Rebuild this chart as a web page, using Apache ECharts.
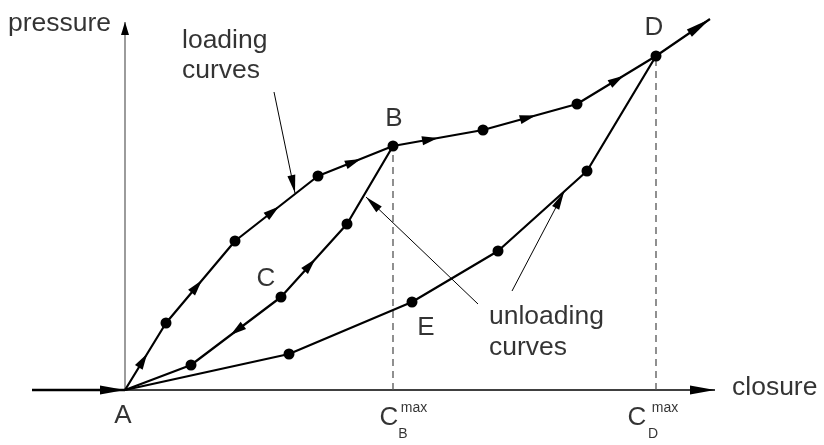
<!DOCTYPE html>
<html>
<head>
<meta charset="utf-8">
<script src="https://cdn.jsdelivr.net/npm/echarts@6/dist/echarts.min.js"></script>
<style>
html,body{margin:0;padding:0;background:#fff;}
#chart{width:824px;height:445px;}
</style>
</head>
<body>
<div id="chart"></div>
<script>
// ---- data (closure, pressure) in arbitrary units ----
var A  = [0.00, 0.00];
var L1 = [0.41, 0.67];
var L2 = [1.10, 1.49];
var L3 = [1.93, 2.14];
var B  = [2.68, 2.44];
var M1 = [3.58, 2.60];
var M2 = [4.52, 2.86];
var D  = [5.31, 3.34];
var EXT = [5.85, 3.71];

var U1 = [2.22, 1.66];
var C  = [1.56, 0.93];
var U3 = [0.66, 0.25];

var V1 = [4.62, 2.19];
var V2 = [3.73, 1.39];
var E  = [2.87, 0.88];
var V4 = [1.64, 0.36];

var loadingCurve  = [A, L1, L2, L3, B, M1, M2, D, EXT];
var unloadingB    = [B, U1, C, U3, A];
var unloadingD    = [D, V1, V2, E, V4, A];
var dots          = [L1, L2, L3, B, M1, M2, D, U1, C, U3, V1, V2, E, V4];

var yAxisTop   = [0.00, 3.68];
var xAxisEnd   = [5.90, 0.00];
var inflowStart = [-0.93, 0.00];

var dashB = [[B[0], 0], B];
var dashD = [[D[0], 0], D];

// annotation arrows: [start, tip]
var noteLoading   = [[1.49, 2.98], [1.70, 1.97]];
var noteUnloadB   = [[3.53, 0.86], [2.41, 1.93]];
var noteUnloadD   = [[3.87, 0.99], [4.39, 1.98]];

// arrowheads on curves: [from, to, tip fraction]
var curveArrows = [
  [A, L1, 0.54], [L1, L2, 0.52], [L2, L3, 0.53], [L3, B, 0.57],
  [B, M1, 0.50], [M1, M2, 0.56], [M2, D, 0.59],
  [C, U1, 0.52], [C, U3, 0.56]
];

// text labels
var pointLabels = [
  {t:'A', p:[-0.02, -0.26]}, {t:'B', p:[2.69, 2.71]}, {t:'C', p:[1.41, 1.11]},
  {t:'D', p:[5.29, 3.62]},  {t:'E', p:[3.01, 0.62]},
  {t:'C', p:[2.64, -0.28]}, {t:'C', p:[5.12, -0.28]}
];
var smallLabels = [
  {t:'max', p:[2.89, -0.18]}, {t:'B', p:[2.78, -0.44]},
  {t:'max', p:[5.40, -0.18]}, {t:'D', p:[5.28, -0.44]}
];
var leftLabels = [
  {t:'pressure', p:[-1.17, 3.66]},
  {t:'loading', p:[0.57, 3.49]}, {t:'curves', p:[0.57, 3.19]},
  {t:'unloading', p:[3.64, 0.73]}, {t:'curves', p:[3.64, 0.42]},
  {t:'closure', p:[6.07, 0.02]}
];

var FONT = "'Liberation Sans', Arial, Helvetica, sans-serif";

function lineSeries(name, data, color, width, type) {
  return {
    type: 'line', name: name, data: data, symbol: 'none', silent: true,
    lineStyle: {color: color, width: width, type: type || 'solid'},
    z: 2
  };
}

function arrowSeries(name, items, len, halfW, z) {
  return {
    type: 'custom', name: name, silent: true, z: z || 5,
    data: items.map(function (a) { return [a[0][0], a[0][1], a[1][0], a[1][1], a[2]]; }),
    renderItem: function (params, api) {
      var p1 = api.coord([api.value(0), api.value(1)]);
      var p2 = api.coord([api.value(2), api.value(3)]);
      var t = api.value(4);
      var dx = p2[0] - p1[0], dy = p2[1] - p1[1];
      var L = Math.sqrt(dx * dx + dy * dy);
      var ux = dx / L, uy = dy / L;
      var tip = [p1[0] + dx * t, p1[1] + dy * t];
      var base = [tip[0] - ux * len, tip[1] - uy * len];
      var nx = -uy, ny = ux;
      return {
        type: 'polygon',
        shape: {points: [tip, [base[0] + nx * halfW, base[1] + ny * halfW], [base[0] - nx * halfW, base[1] - ny * halfW]]},
        style: {fill: '#000'}
      };
    }
  };
}

function labelSeries(name, items, size, position) {
  return {
    type: 'scatter', name: name, symbolSize: 0, silent: true, z: 10,
    data: items.map(function (d) { return {value: d.p, name: d.t}; }),
    label: {
      show: true, position: position, distance: 0,
      formatter: function (p) { return p.name; },
      color: '#000', fontSize: size, fontFamily: FONT,
      align: position === 'inside' ? 'center' : 'left', verticalAlign: 'middle'
    }
  };
}

var chart = echarts.init(document.getElementById('chart'), null, {renderer: 'canvas'});
chart.setOption({
  animation: false,
  backgroundColor: '#fff',
  grid: {left: 0, right: 0, top: 0, bottom: 0},
  xAxis: {type: 'value', min: -1.25, max: 6.99, show: false},
  yAxis: {type: 'value', min: -0.55, max: 3.90, show: false},
  series: [
    lineSeries('yaxis', [A, yAxisTop], '#666', 1.3),
    lineSeries('xaxis', [A, xAxisEnd], '#000', 1.5),
    lineSeries('inflow', [inflowStart, A], '#000', 2.5),
    lineSeries('dashB', dashB, '#555', 1.3, [7, 5]),
    lineSeries('dashD', dashD, '#555', 1.3, [7, 5]),
    lineSeries('loading', loadingCurve, '#000', 2.2),
    lineSeries('unloadingB', unloadingB, '#000', 2.2),
    lineSeries('unloadingD', unloadingD, '#000', 2.2),
    lineSeries('noteLoading', noteLoading, '#000', 1),
    lineSeries('noteUnloadB', noteUnloadB, '#000', 1),
    lineSeries('noteUnloadD', noteUnloadD, '#000', 1),
    {
      type: 'scatter', name: 'points', data: dots, symbol: 'circle', symbolSize: 11,
      itemStyle: {color: '#000', opacity: 1}, silent: true, z: 6
    },
    arrowSeries('curveArrows', curveArrows, 16, 4.5),
    arrowSeries('endArrows', [[D, EXT, 1.0], [inflowStart, A, 1.0], [A, xAxisEnd, 1.0]], 25, 4.5),
    arrowSeries('yArrow', [[A, yAxisTop, 1.0]], 13, 4),
    arrowSeries('noteArrows', [[noteLoading[0], noteLoading[1], 1.0], [noteUnloadB[0], noteUnloadB[1], 1.0], [noteUnloadD[0], noteUnloadD[1], 1.0]], 18, 4),
    labelSeries('pointLabels', pointLabels, 26, 'inside'),
    labelSeries('smallLabels', smallLabels, 14, 'inside'),
    labelSeries('textLabels', leftLabels, 26.5, 'right')
  ]
});
</script>
</body>
</html>
